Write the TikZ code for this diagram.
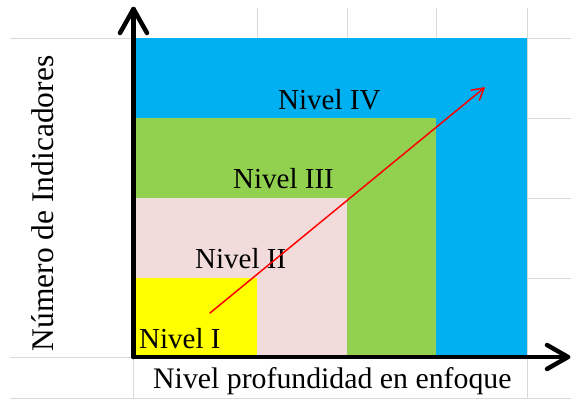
\documentclass[tikz,border=0pt]{standalone}
\usepackage{fontspec}
\setmainfont{Liberation Serif}
\usetikzlibrary{calc}
\begin{document}
\begin{tikzpicture}[x=1pt,y=-1pt,
  gridline/.style={draw=black!15,line width=1pt},
  axisline/.style={line width=4.5pt,line cap=round,line join=round},
  lvl/.style={inner sep=0pt,anchor=base west,font=\fontsize{29}{30}\selectfont},
  region/.style={draw=none}]
\useasboundingbox (0,0) rectangle (571,399);
% grid
\draw[gridline] (10,38) -- (571,38);
\draw[gridline] (133,118) -- (571,118);
\draw[gridline] (133,198) -- (571,198);
\draw[gridline] (133,278) -- (571,278);
\draw[gridline] (10,357) -- (571,357);
\draw[gridline] (10,398) -- (571,398);
\draw[gridline] (257,8) -- (257,357);
\draw[gridline] (347,8) -- (347,357);
\draw[gridline] (436,8) -- (436,357);
\draw[gridline] (527,8) -- (527,399);
\draw[gridline] (133,357) -- (133,399);
% regions
\fill[region,fill={rgb,255:red,0;green,176;blue,240}] (133,38) rectangle (527,357);
\fill[region,fill={rgb,255:red,146;green,208;blue,80}] (133,118) rectangle (436,357);
\fill[region,fill={rgb,255:red,242;green,220;blue,219}] (133,198) rectangle (347,357);
\fill[region,fill={rgb,255:red,255;green,255;blue,0}] (133,278) rectangle (257,357);
% labels
\node[lvl] (n4) at (278,109) {Nivel IV};
\node[lvl] (n3) at (233,188) {Nivel III};
\node[lvl] (n2) at (195,268) {Nivel II};
\node[lvl] (n1) at (139,348) {Nivel I};
\node[lvl,font=\fontsize{29.8}{31}\selectfont] (xl) at (153,388) {Nivel profundidad en enfoque};
\node[inner sep=0pt,anchor=base,rotate=90,font=\fontsize{31.5}{32}\selectfont] (yl) at (53,203.5) {Número de Indicadores};
% red arrow
\coordinate (rs) at (210,313);
\coordinate (re) at (484,88);
\draw[red,line width=1.5pt,line cap=round] (rs) -- (re);
\draw[red,line width=1.5pt,line cap=round,line join=round] ($(re)!13pt!-30:(rs)$) -- (re) -- ($(re)!13pt!30:(rs)$);
% axes
\coordinate (o) at (133.5,357);
\coordinate (ytip) at (133.5,9);
\coordinate (xtip) at (568,357);
\draw[axisline] (o) -- (ytip);
\draw[axisline] (120,33) -- (ytip) -- (147,33);
\draw[axisline] (o) -- (xtip);
\draw[axisline] (547,345) -- (xtip) -- (547,369);
\end{tikzpicture}
\end{document}
